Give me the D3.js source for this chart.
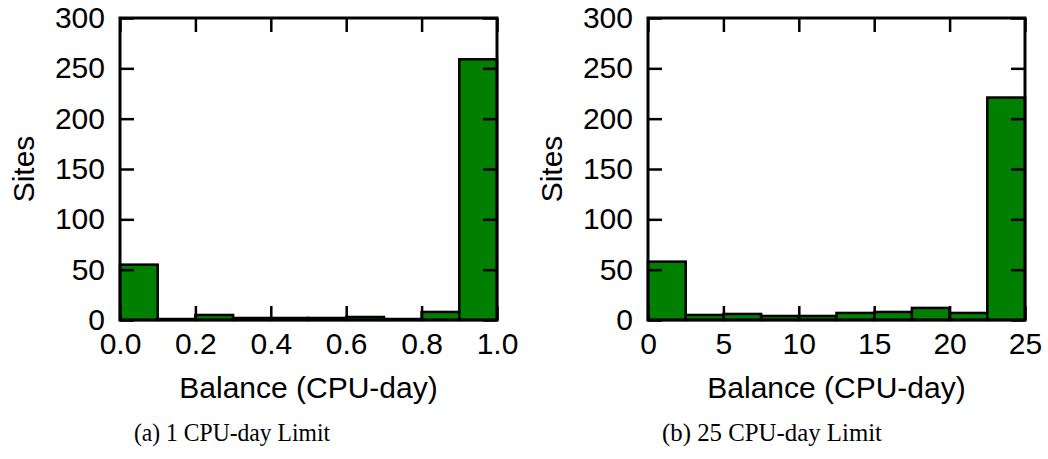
<!DOCTYPE html>
<html>
<head>
<meta charset="utf-8">
<script src="https://cdn.jsdelivr.net/npm/d3@7"></script>
<style>
  html, body { margin: 0; padding: 0; background: #fff; }
  svg { display: block; }
</style>
</head>
<body>
<div id="chart"></div>
<script>
// histogram bins (left edges + final right edge) and site counts
const binEdgesA = [0.0, 0.1, 0.2, 0.3, 0.4, 0.5, 0.6, 0.7, 0.8, 0.9, 1.0];
const sitesA = [55, 1, 5, 2, 2, 2, 3, 1, 8, 259];
const xTicksA = [0.0, 0.2, 0.4, 0.6, 0.8, 1.0];

const binEdgesB = [0, 2.5, 5, 7.5, 10, 12.5, 15, 17.5, 20, 22.5, 25];
const sitesB = [58, 5, 6, 4, 4, 7, 8, 12, 7, 221];
const xTicksB = [0, 5, 10, 15, 20, 25];

const yTicks = [0, 50, 100, 150, 200, 250, 300];

const W = 1048, H = 459;
const svg = d3.select("#chart").append("svg")
    .attr("width", W)
    .attr("height", H);

const sans = "'Liberation Sans', Arial, Helvetica, sans-serif";
const serif = "'Liberation Serif', 'DejaVu Serif', serif";
const tickLen = 14;

function drawPanel(opts) {
    const { left, right, top, bottom, edges, values, xTicks, xFmt, caption, captionX, captionW } = opts;

    const x = d3.scaleLinear()
        .domain([edges[0], edges[edges.length - 1]])
        .range([left, right]);
    const y = d3.scaleLinear()
        .domain([0, 300])
        .range([bottom, top]);

    const g = svg.append("g");

    // bars
    const bins = values.map((v, i) => ({ x0: edges[i], x1: edges[i + 1], v: v }));
    g.selectAll("rect.bar")
        .data(bins)
        .enter().append("rect")
        .attr("class", "bar")
        .attr("x", d => x(d.x0))
        .attr("y", d => y(d.v))
        .attr("width", d => x(d.x1) - x(d.x0))
        .attr("height", d => y(0) - y(d.v))
        .attr("fill", "#007f00")
        .attr("stroke", "#000")
        .attr("stroke-width", 2.5);

    // axes: tick labels via d3 axes, ticks drawn inward and mirrored
    g.append("g")
        .attr("transform", `translate(${left},0)`)
        .call(d3.axisLeft(y).tickValues(yTicks).tickSize(-tickLen).tickPadding(15))
        .call(a => a.select(".domain").remove());
    g.append("g")
        .attr("transform", `translate(${right},0)`)
        .call(d3.axisRight(y).tickValues(yTicks).tickSize(-tickLen).tickFormat(""))
        .call(a => a.select(".domain").remove());
    g.append("g")
        .attr("transform", `translate(0,${bottom})`)
        .call(d3.axisBottom(x).tickValues(xTicks).tickSize(-tickLen).tickPadding(13).tickFormat(xFmt))
        .call(a => a.select(".domain").remove());
    g.append("g")
        .attr("transform", `translate(0,${top})`)
        .call(d3.axisTop(x).tickValues(xTicks).tickSize(-tickLen).tickFormat(""))
        .call(a => a.select(".domain").remove());

    g.selectAll(".tick line")
        .attr("stroke", "#000")
        .attr("stroke-width", 2.5);
    g.selectAll(".tick text")
        .attr("fill", "#000")
        .style("font-family", sans)
        .style("font-size", "30px");

    // border
    g.append("rect")
        .attr("x", left)
        .attr("y", top)
        .attr("width", right - left)
        .attr("height", bottom - top)
        .attr("fill", "none")
        .attr("stroke", "#000")
        .attr("stroke-width", 3);

    // axis titles
    g.append("text")
        .attr("transform", `translate(${left - 86},${(top + bottom) / 2}) rotate(-90)`)
        .attr("text-anchor", "middle")
        .style("font-family", sans)
        .style("font-size", "30px")
        .text("Sites");
    g.append("text")
        .attr("x", (left + right) / 2)
        .attr("y", bottom + 78)
        .attr("text-anchor", "middle")
        .style("font-family", sans)
        .style("font-size", "30px")
        .text("Balance (CPU-day)");

    // caption
    g.append("text")
        .attr("x", captionX)
        .attr("y", 441)
        .attr("text-anchor", "middle")
        .attr("textLength", captionW)
        .attr("lengthAdjust", "spacingAndGlyphs")
        .style("font-family", serif)
        .style("font-size", "25.5px")
        .text(caption);
}

drawPanel({
    left: 120, right: 497, top: 18, bottom: 320,
    edges: binEdgesA, values: sitesA, xTicks: xTicksA,
    xFmt: d3.format(".1f"),
    caption: "(a) 1 CPU-day Limit", captionX: 232, captionW: 196
});

drawPanel({
    left: 648, right: 1025, top: 18, bottom: 320,
    edges: binEdgesB, values: sitesB, xTicks: xTicksB,
    xFmt: d3.format("d"),
    caption: "(b) 25 CPU-day Limit", captionX: 772, captionW: 220
});
</script>
</body>
</html>
